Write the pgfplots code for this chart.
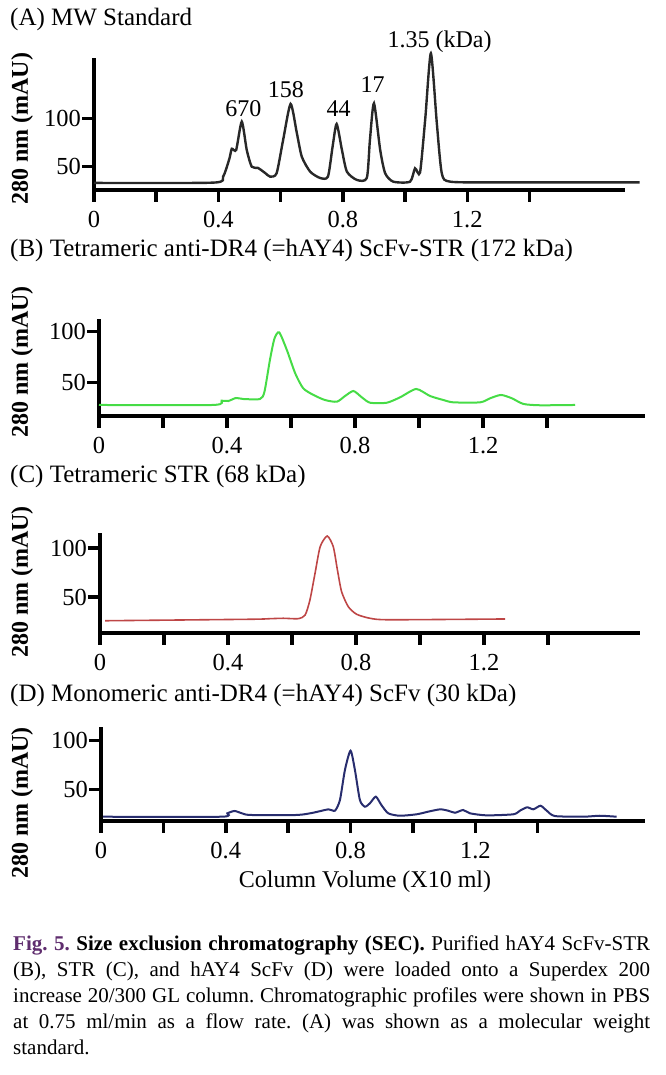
\documentclass[border=0pt]{standalone}
\usepackage{pgfplots}
\pgfplotsset{compat=1.18}
\usepackage{fontspec}
\setmainfont{Liberation Serif}
\definecolor{lineA}{RGB}{40,40,40}
\definecolor{lineB}{RGB}{70,220,70}
\definecolor{lineC}{RGB}{190,70,70}
\definecolor{lineD}{RGB}{40,45,110}
\definecolor{figpurple}{RGB}{95,45,110}
\pgfplotsset{
  sec/.style={
    scale only axis,
    anchor=south west,
    axis x line=bottom, axis y line=left,
    axis line style={-, line width=3.5pt},
    tick align=outside,
    major tick length=12pt,
    tick style={line width=3.5pt, black},
    xtick={0,0.2,0.4,0.6,0.8,1.0,1.2,1.4},
    xticklabels={0,,0.4,,0.8,,1.2,},
    ytick={50,100},
    minor tick num=0,
    xmin=0,
    tick label style={font=\fontsize{24.5}{28}\selectfont, inner sep=1pt},
    xticklabel style={yshift=-8pt},
    /pgf/number format/assume math mode=true,
    clip=false,
  },
}
\tikzset{peak/.style={font=\fontsize{24}{28}\selectfont, inner sep=0pt}}
\begin{document}
\begin{tikzpicture}
\useasboundingbox (0pt,0pt) rectangle (665pt,1075pt);

% ---------------- Panel A ----------------
\node[anchor=base west, inner sep=0pt, font=\fontsize{25}{30}\selectfont] at (10pt,1049pt) {(A) MW Standard};
\begin{axis}[sec, at={(94pt,885pt)}, width=531pt, height=132pt, xmax=1.707, ymin=25.9, ymax=162.3]
\addplot[lineA, line width=2.4pt, smooth, tension=0.4] table {
x y
0 33.2
0.383 33.5
0.415 39.7
0.435 58
0.443 68.5
0.457 67.3
0.475 96.5
0.491 67.3
0.507 50
0.527 48.7
0.550 43.5
0.566 39.7
0.587 43.2
0.608 77.6
0.632 114.8
0.652 84.8
0.668 60.3
0.695 44.8
0.727 38.3
0.752 39.7
0.767 70.7
0.780 94.1
0.797 67.3
0.813 44.8
0.845 36.3
0.877 38.3
0.887 77.6
0.900 115.5
0.920 67.3
0.936 43.2
0.962 34.5
1.016 34.5
1.032 48.3
1.048 43.8
1.065 100
1.083 167.1
1.102 95.1
1.118 43.2
1.145 34.5
1.300 33.8
1.754 33.7
};
\node[peak] at (axis cs:0.480,110.3) {670};
\node[peak] at (axis cs:0.617,130) {158};
\node[peak] at (axis cs:0.786,110.3) {44};
\node[peak] at (axis cs:0.896,134.4) {17};
\node[peak] at (axis cs:1.111,179.1) {1.35 (kDa)};
\end{axis}
\node[rotate=90, inner sep=0pt, font=\bfseries\fontsize{24}{28}\selectfont] at (22pt,946pt) {280 nm (mAU)};

% ---------------- Panel B ----------------
\node[anchor=base west, inner sep=0pt, font=\fontsize{25}{30}\selectfont] at (10pt,818pt) {(B) Tetrameric anti-DR4 (=hAY4) ScFv-STR (172 kDa)};
\begin{axis}[sec, at={(99pt,659pt)}, width=546pt, height=96.6pt, xmax=1.706, ymin=16.7, ymax=112.2]
\addplot[lineB, line width=2pt, smooth, tension=0.4] table {
x y
0 27.6
0.357 27.6
0.383 31.8
0.404 31.5
0.428 34.5
0.451 33.5
0.503 33.5
0.517 40.7
0.534 72
0.548 93
0.563 99.4
0.587 81.9
0.613 58.9
0.638 44.1
0.670 37.5
0.706 32.5
0.743 30.8
0.769 36.5
0.795 41.4
0.821 35.2
0.847 29.8
0.899 29.8
0.941 35.2
0.991 43.4
1.034 36.5
1.076 32.5
1.107 30.2
1.191 30.2
1.222 34.2
1.256 37.5
1.290 34.2
1.326 28.6
1.378 27.3
1.488 27.6
};
\end{axis}
\node[rotate=90, inner sep=0pt, font=\bfseries\fontsize{24}{28}\selectfont] at (22pt,713pt) {280 nm (mAU)};

% ---------------- Panel C ----------------
\node[anchor=base west, inner sep=0pt, font=\fontsize{25}{30}\selectfont] at (10pt,592pt) {(C) Tetrameric STR (68 kDa)};
\begin{axis}[sec, at={(100pt,442pt)}, width=540pt, height=100pt, xmax=1.6875, ymin=13.3, ymax=115.3]
\addplot[lineC, line width=1.6pt, smooth, tension=0.4] table {
x y
0.016 25.8
0.469 27.3
0.531 27.9
0.573 28.3
0.620 27.9
0.641 31.6
0.656 46.9
0.672 74.2
0.688 101.3
0.710 112.2
0.729 101.3
0.742 77.5
0.755 55.4
0.776 40.1
0.802 32.4
0.844 28.3
0.906 26.8
1.266 27.6
};
\end{axis}
\node[rotate=90, inner sep=0pt, font=\bfseries\fontsize{24}{28}\selectfont] at (22pt,493pt) {280 nm (mAU)};

% ---------------- Panel D ----------------
\node[anchor=base west, inner sep=0pt, font=\fontsize{25}{30}\selectfont] at (10pt,373pt) {(D) Monomeric anti-DR4 (=hAY4) ScFv (30 kDa)};
\begin{axis}[sec, at={(101pt,254pt)}, width=544pt, height=94.3pt, xmax=1.744, ymin=17.4, ymax=114.4]
\addplot[lineD, line width=2pt, smooth, tension=0.4] table {
x y
0.007 21.8
0.385 21.8
0.405 25.3
0.428 27.7
0.452 25.3
0.479 23.6
0.628 23.6
0.680 25.9
0.729 29.4
0.750 28
0.766 39
0.782 69.9
0.800 89.7
0.814 69.9
0.830 39
0.846 32.1
0.862 35.6
0.881 42.4
0.899 33.8
0.921 25.3
0.958 22.8
1.012 24.3
1.049 27
1.087 29.4
1.113 28
1.135 25.9
1.161 28.7
1.183 25.3
1.236 23.2
1.322 24.3
1.343 28
1.366 31.5
1.386 29.4
1.409 33.1
1.429 28
1.455 22.5
1.546 21.8
1.599 22.8
1.653 21.8
};
\end{axis}
\node[rotate=90, inner sep=0pt, font=\bfseries\fontsize{24}{28}\selectfont] at (22pt,272pt) {280 nm (mAU)};
\node[anchor=base, inner sep=0pt, font=\fontsize{24}{28}\selectfont] at (365pt,187pt) {Column Volume (X10 ml)};

% ---------------- Caption ----------------
\node[anchor=north west, inner sep=0pt, text width=637pt, align=justify, font=\fontsize{21}{26}\selectfont] at (13pt,143pt) {\frenchspacing\hyphenpenalty=10000 \exhyphenpenalty=10000 \strut{\color{figpurple}\textbf{Fig. 5.}} \textbf{Size exclusion chromatography (SEC).} Purified hAY4 ScFv-STR\linebreak
(B), STR (C), and hAY4 ScFv (D) were loaded onto a Superdex 200\linebreak
increase 20/300 GL column. Chromatographic profiles were shown in PBS\linebreak
at 0.75 ml/min as a flow rate. (A) was shown as a molecular weight\linebreak
standard.};
\end{tikzpicture}
\end{document}
